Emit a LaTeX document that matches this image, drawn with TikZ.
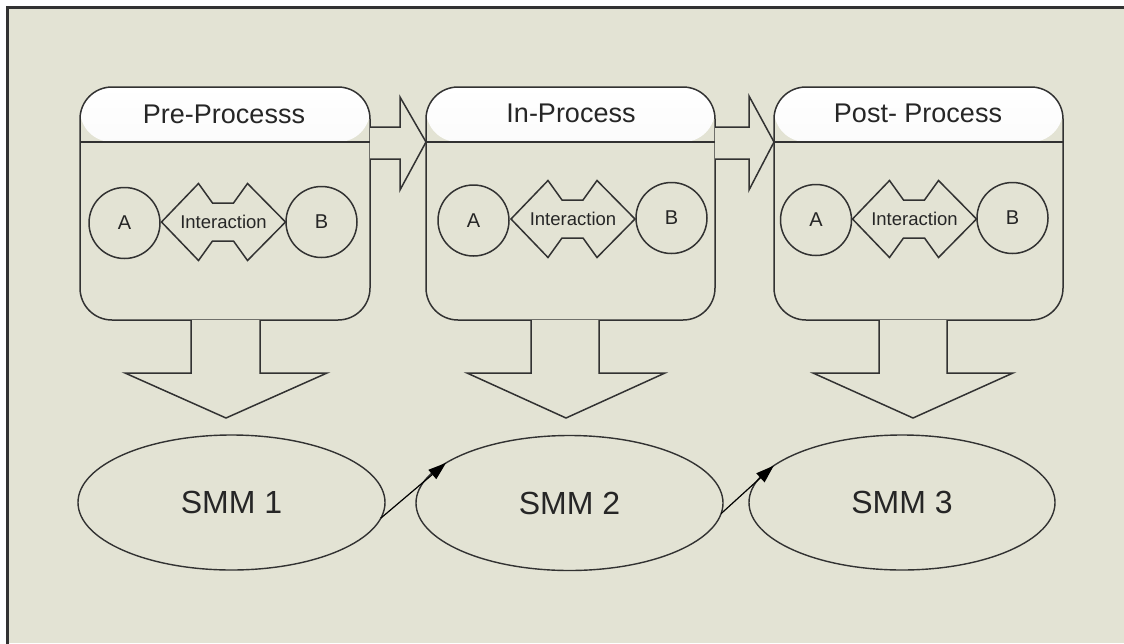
\documentclass[tikz,border=0pt]{standalone}
\usepackage{fontspec}
\setmainfont{Liberation Sans}
\usetikzlibrary{shapes.geometric,arrows.meta,calc}
\definecolor{bg}{RGB}{227,227,212}
\definecolor{ln}{RGB}{50,50,50}
\definecolor{tx}{RGB}{38,38,38}
\newcommand{\drawinteraction}[3]{%
  \node[intext] (#1) at (#2,#3) {Interaction};
  \draw[shapeline] ($(#1)+(-62,0)$) -- ($(#1)+(-25,-38.5)$) -- ($(#1)+(-11,-19)$) -- ($(#1)+(10,-19)$)
    -- ($(#1)+(24,-38.5)$) -- ($(#1)+(62,0)$) -- ($(#1)+(24,38.5)$) -- ($(#1)+(10,19)$)
    -- ($(#1)+(-11,19)$) -- ($(#1)+(-25,38.5)$) -- cycle;
}
\tikzset{
  shapeline/.style={draw=ln, line width=1.5pt, line join=miter},
  procbox/.style={draw=ln, line width=1.5pt, fill=bg, rounded corners=32pt,
    minimum width=290pt, minimum height=233pt, outer sep=0pt, inner sep=0pt,
    path picture={
      \shade[top color=white, bottom color=gray!12]
        ([yshift=2pt]path picture bounding box.north west) rectangle
        ([yshift=-55pt]path picture bounding box.north east);
      \draw[ln, line width=1.5pt]
        ([yshift=-55pt]path picture bounding box.north west) --
        ([yshift=-55pt]path picture bounding box.north east);
    }},
  headtext/.style={text=tx, font=\fontsize{27}{30}\selectfont, inner sep=0pt},
  actor/.style={circle, draw=ln, line width=1.5pt, minimum size=71pt, inner sep=0pt,
    outer sep=0pt, text=tx, font=\fontsize{20}{22}\selectfont},
  intext/.style={text=tx, font=\fontsize{18.5}{20}\selectfont, inner sep=0pt},
  smm/.style={ellipse, draw=ln, line width=1.4pt, minimum width=307pt, minimum height=135pt,
    inner sep=0pt, outer sep=0pt, text=tx, font=\fontsize{32}{36}\selectfont},
  blockarrow/.style={draw=ln, fill=bg, line width=1.5pt, line join=miter},
  conn/.style={draw=black, line width=1.2pt, -{Triangle[length=18pt,width=12pt]}},
}
\begin{document}
\begin{tikzpicture}[x=1pt,y=-1pt]
\useasboundingbox (0,0) rectangle (1124,643);
\clip (0,0) rectangle (1124,643);
\fill[white] (0,0) rectangle (1124,643);
\fill[bg] (7,7) rectangle (1124,643);
\draw[ln, line width=3pt] (7,660) -- (7,7) -- (1140,7);

% process boxes
\node[procbox] (p1) at (225,203.5) {};
\node[procbox, minimum width=289pt] (p2) at (570.5,203.5) {};
\node[procbox, minimum width=289pt] (p3) at (918.5,203.5) {};

\node[headtext] (h1) at (224,114) {Pre-Processs};
\node[headtext] (h2) at (571,113) {In-Process};
\node[headtext] (h3) at (918,113) {Post- Process};

% right block arrows
\draw[blockarrow] (p1.east |- 0,127) -- (400,127) -- (400,97) -- (p2.west |- 0,142)
  -- (400,190) -- (400,159) -- (p1.east |- 0,159);
\draw[blockarrow] (p2.east |- 0,127) -- (749,127) -- (749,96) -- (p3.west |- 0,142)
  -- (749,190) -- (749,159) -- (p2.east |- 0,159);

% actors and interactions
\node[actor] (a1) at (124.5,223) {A};
\node[actor] (b1) at (321.5,222) {B};
\drawinteraction{i1}{223.5}{222}
\node[actor] (a2) at (473.5,220.5) {A};
\node[actor] (b2) at (671.5,218) {B};
\drawinteraction{i2}{573}{219}
\node[actor] (a3) at (816,220) {A};
\node[actor] (b3) at (1012.5,218) {B};
\drawinteraction{i3}{914.5}{219}

% SMM ellipses
\node[smm] (e1) at (231.5,502.5) {SMM 1};
\node[smm] (e2) at (569.5,503) {SMM 2};
\node[smm, minimum width=306pt] (e3) at (902,502.5) {SMM 3};

% down block arrows
\draw[blockarrow] (p1.south -| 191,0) -- (191,373) -- (125,373) -- (226,418) -- (327,373)
  -- (260,373) -- (p1.south -| 260,0);
\draw[blockarrow] (p2.south -| 531,0) -- (531,373) -- (467,373) -- (566,418) -- (665,373)
  -- (599,373) -- (p2.south -| 599,0);
\draw[blockarrow] (p3.south -| 879,0) -- (879,373) -- (813,373) -- (913,418) -- (1013,373)
  -- (947,373) -- (p3.south -| 947,0);

% connectors
\draw[conn] (e1.-6) -- (e2.162);
\draw[conn] (e2.-4.6) -- (e3.164.6);
\end{tikzpicture}
\end{document}
